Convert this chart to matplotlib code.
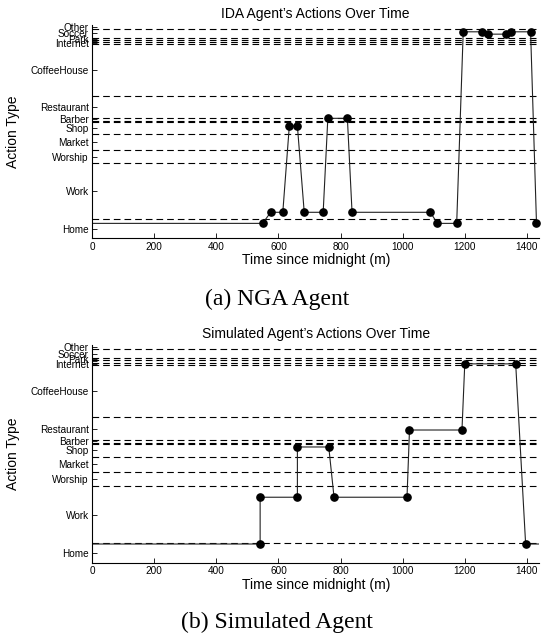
import matplotlib.pyplot as plt
import numpy as np

# category boundaries on the action axis (dashed lines), bottom to top
bounds = [0.0, 0.091, 0.352, 0.415, 0.488, 0.545, 0.552, 0.563, 0.670,
          0.911, 0.920, 0.931, 0.942, 0.981, 1.0]
cat_labels = ['Home', 'Work', 'Worship', 'Market', 'Shop', '', 'Barber',
              'Restaurant', 'CoffeeHouse', 'Internet', '', 'Park', 'Soccer', 'Other']

# (a) NGA agent
nga_t = [0, 549, 575, 614, 635, 661, 683, 744, 759, 822, 837, 1089, 1112,
         1174, 1195, 1256, 1274, 1332, 1348, 1412, 1431]
nga_y = [0.070, 0.070, 0.122, 0.122, 0.527, 0.527, 0.122, 0.122, 0.563, 0.563,
         0.122, 0.122, 0.070, 0.070, 0.969, 0.969, 0.958, 0.958, 0.969, 0.969, 0.070]

# (b) simulated agent
sim_t = [0, 541, 541, 661, 661, 762, 779, 1014, 1022, 1191, 1200, 1364, 1396, 1440]
sim_y = [0.086, 0.086, 0.301, 0.301, 0.532, 0.532, 0.301, 0.301, 0.610, 0.610,
         0.914, 0.914, 0.086, 0.086]

plt.rcParams['font.family'] = ['Liberation Sans', 'DejaVu Sans']

fig = plt.figure(figsize=(5.42, 6.38), dpi=100)


def draw(ax, t, y, title, last_marker=True):
    for b in bounds[1:-1]:
        ax.axhline(b, color='black', lw=0.8, ls=(0, (6, 3.6)), zorder=1)
    end = len(t) if last_marker else len(t) - 1
    ax.plot(t, y, color='#222222', lw=0.8, zorder=2)
    ax.plot(t[1:end], y[1:end], 'o', color='black', ms=5.2, zorder=3, clip_on=False)
    mids = [(a + b) / 2 for a, b in zip(bounds[:-1], bounds[1:])]
    ax.set_yticks(mids)
    ax.set_yticklabels(cat_labels, fontsize=7.2)
    ax.set_ylim(0, 1)
    ax.set_xlim(0, 1440)
    ax.set_xticks(np.arange(0, 1401, 200))
    ax.tick_params(axis='x', labelsize=7.2)
    ax.tick_params(direction='in', length=3.5, width=0.6, pad=2.5)
    for s in ['top', 'right']:
        ax.spines[s].set_visible(False)
    ax.spines['left'].set_linewidth(0.8)
    ax.spines['bottom'].set_linewidth(0.8)
    ax.set_title(title, fontsize=10, pad=5)
    ax.set_xlabel('Time since midnight (m)', fontsize=10, labelpad=1)
    ax.set_ylabel('Action Type', fontsize=10)
    ax.yaxis.set_label_coords(-0.162, 0.5)


ax1 = fig.add_axes([0.170, 0.6265, 0.825, 0.334])
draw(ax1, nga_t, nga_y, "IDA Agent’s Actions Over Time")

ax2 = fig.add_axes([0.170, 0.118, 0.825, 0.341])
draw(ax2, sim_t, sim_y, "Simulated Agent’s Actions Over Time", last_marker=False)

fig.text(0.511, 0.530, '(a) NGA Agent', ha='center', va='center',
         fontsize=17, family='Liberation Serif')
fig.text(0.511, 0.0243, '(b) Simulated Agent', ha='center', va='center',
         fontsize=17, family='Liberation Serif')

fig.savefig('out.png', dpi=100)
